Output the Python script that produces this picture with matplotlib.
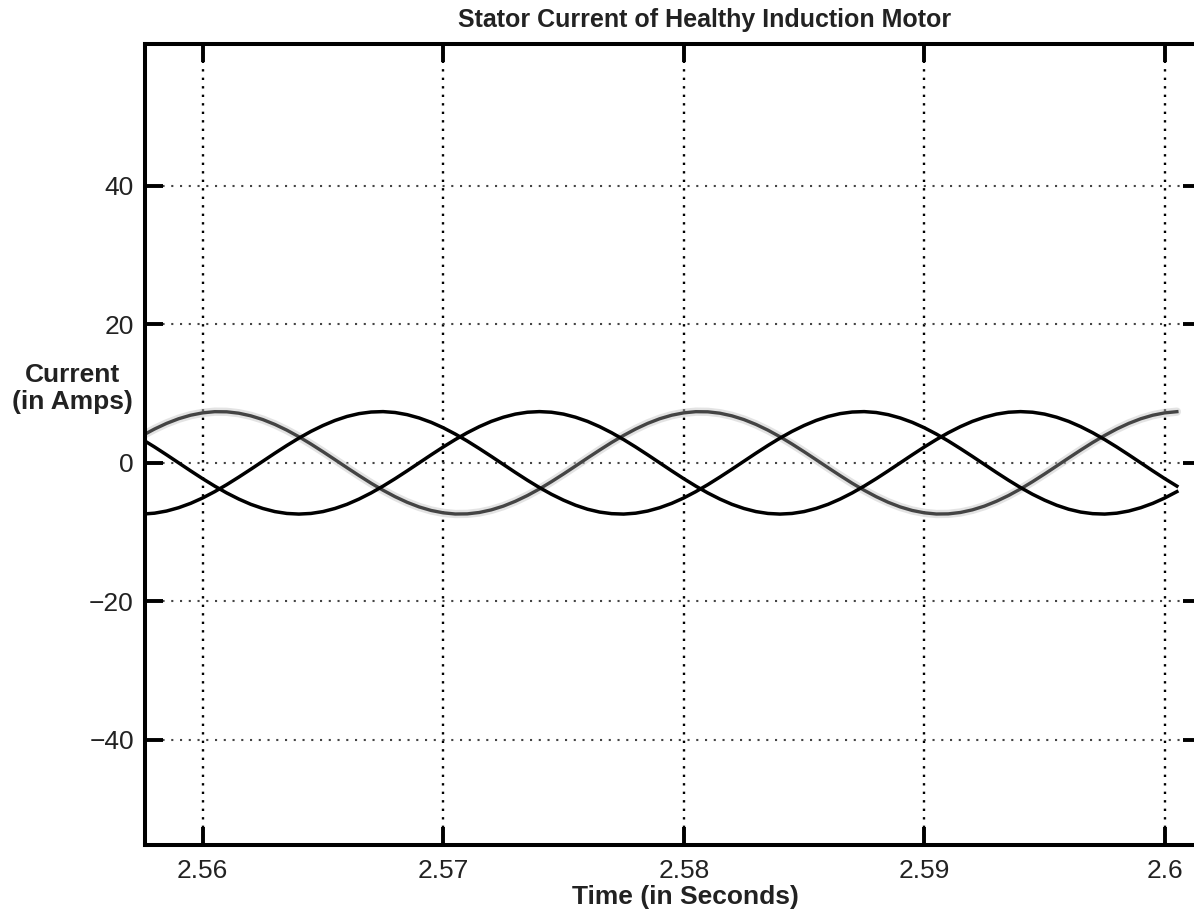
import numpy as np
import matplotlib
matplotlib.use("Agg")
import matplotlib.pyplot as plt

plt.rcParams['font.family'] = ['Liberation Sans', 'DejaVu Sans']

# samples every 0.5 ms from 2.5575 s to 2.6005 s
time_s = np.round(np.arange(2.5575, 2.60051, 0.0005), 4)

# three phase currents (A)
phase_a = [-7.40,
           -7.27, -6.96, -6.48, -5.85, -5.07, -4.16, -3.15, -2.06, -0.93, 0.23,
           1.39, 2.51, 3.57, 4.54, 5.39, 6.12, 6.70, 7.11, 7.34, 7.40,
           7.27, 6.96, 6.48, 5.85, 5.07, 4.16, 3.15, 2.06, 0.93, -0.23,
           -1.39, -2.51, -3.57, -4.54, -5.39, -6.12, -6.70, -7.11, -7.34, -7.40,
           -7.27, -6.96, -6.48, -5.85, -5.07, -4.16, -3.15, -2.06, -0.93, 0.23,
           1.39, 2.51, 3.57, 4.54, 5.39, 6.12, 6.70, 7.11, 7.34, 7.40,
           7.27, 6.96, 6.48, 5.85, 5.07, 4.16, 3.15, 2.06, 0.93, -0.23,
           -1.39, -2.51, -3.57, -4.54, -5.39, -6.12, -6.70, -7.11, -7.34, -7.40,
           -7.27, -6.96, -6.48, -5.85, -5.07, -4.16]

phase_b = [3.36,
           2.29, 1.16, 0.00, -1.16, -2.29, -3.36, -4.35, -5.23, -5.99, -6.59,
           -7.04, -7.31, -7.40, -7.31, -7.04, -6.59, -5.99, -5.23, -4.35, -3.36,
           -2.29, -1.16, 0.00, 1.16, 2.29, 3.36, 4.35, 5.23, 5.99, 6.59,
           7.04, 7.31, 7.40, 7.31, 7.04, 6.59, 5.99, 5.23, 4.35, 3.36,
           2.29, 1.16, 0.00, -1.16, -2.29, -3.36, -4.35, -5.23, -5.99, -6.59,
           -7.04, -7.31, -7.40, -7.31, -7.04, -6.59, -5.99, -5.23, -4.35, -3.36,
           -2.29, -1.16, 0.00, 1.16, 2.29, 3.36, 4.35, 5.23, 5.99, 6.59,
           7.04, 7.31, 7.40, 7.31, 7.04, 6.59, 5.99, 5.23, 4.35, 3.36,
           2.29, 1.16, 0.00, -1.16, -2.29, -3.36]

phase_c = [3.96,
           4.89, 5.70, 6.37, 6.88, 7.22, 7.39, 7.37, 7.17, 6.79, 6.25,
           5.55, 4.72, 3.77, 2.72, 1.61, 0.46, -0.70, -1.84, -2.94, -3.96,
           -4.89, -5.70, -6.37, -6.88, -7.22, -7.39, -7.37, -7.17, -6.79, -6.25,
           -5.55, -4.72, -3.77, -2.72, -1.61, -0.46, 0.70, 1.84, 2.94, 3.96,
           4.89, 5.70, 6.37, 6.88, 7.22, 7.39, 7.37, 7.17, 6.79, 6.25,
           5.55, 4.72, 3.77, 2.72, 1.61, 0.46, -0.70, -1.84, -2.94, -3.96,
           -4.89, -5.70, -6.37, -6.88, -7.22, -7.39, -7.37, -7.17, -6.79, -6.25,
           -5.55, -4.72, -3.77, -2.72, -1.61, -0.46, 0.70, 1.84, 2.94, 3.96,
           4.89, 5.70, 6.37, 6.88, 7.22, 7.39]

x_ticks = [2.56, 2.57, 2.58, 2.59, 2.60]
x_tick_labels = ['2.56', '2.57', '2.58', '2.59', '2.6']
y_ticks = [-40, -20, 0, 20, 40]

fig = plt.figure(figsize=(11.94, 9.22), dpi=100)
ax = fig.add_axes([0.1214, 0.0835, 0.8844, 0.8688])

# gray (slightly blurred) phase
ax.plot(time_s, phase_c, color='#c8c8c8', lw=6, alpha=0.5, solid_capstyle='round')
ax.plot(time_s, phase_c, color='#444444', lw=2.4)
ax.plot(time_s, phase_a, color='black', lw=2.5)
ax.plot(time_s, phase_b, color='black', lw=2.5)

ax.set_xlim(2.5576, 2.6015)
ax.set_ylim(-55.2, 60.5)
ax.set_xticks(x_ticks)
ax.set_xticklabels(x_tick_labels)
ax.set_yticks(y_ticks)

for x in x_ticks:
    ax.axvline(x, color='black', lw=1.7, linestyle=(0, (1, 2.6)), zorder=0)
for y in y_ticks:
    ax.axhline(y, color='#444444', lw=1.5, linestyle=(0, (1, 3.2)), zorder=0)

for s in ax.spines.values():
    s.set_linewidth(2.9)
ax.tick_params(direction='in', length=13, width=2.8, top=True, right=True,
               labelsize=19, labelcolor='#222222')
ax.tick_params(axis='x', pad=10)
ax.tick_params(axis='y', pad=8)

fig.text(0.59, 0.978, 'Stator Current of Healthy Induction Motor',
         ha='center', va='center', fontsize=18, fontweight='bold', color='#222222')
fig.text(0.574, 0.027, 'Time (in Seconds)', ha='center', va='center',
         fontsize=19, fontweight='bold', color='#222222')
fig.text(0.061, 0.579, 'Current\n(in Amps)', ha='center', va='center',
         multialignment='center', fontsize=19, fontweight='bold',
         color='#222222', linespacing=1.15)

fig.savefig('out.png', dpi=100)
